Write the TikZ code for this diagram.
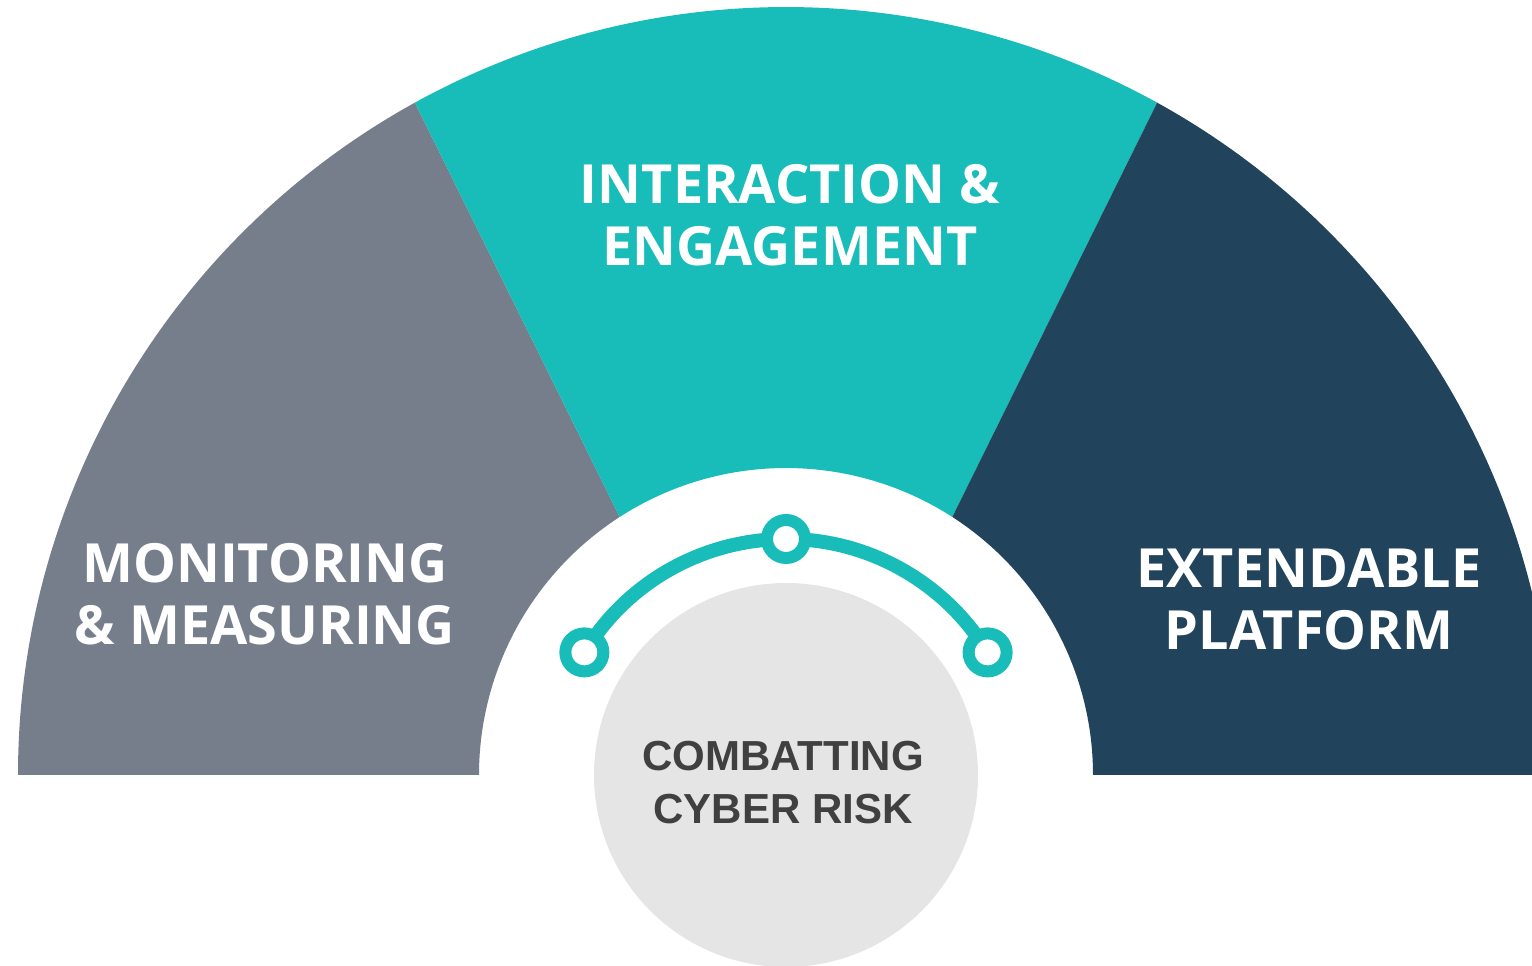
\documentclass[tikz,border=0pt]{standalone}
\usepackage{fontspec}
\newfontfamily\opensans{Open Sans}
\newfontfamily\libsans{Liberation Sans}
\definecolor{slategrey}{HTML}{767E8C}
\definecolor{tealc}{HTML}{18BCB9}
\definecolor{navyc}{HTML}{21435B}
\definecolor{lightgreyc}{HTML}{E4E5E4}
\definecolor{darktext}{HTML}{404040}
\tikzset{
  sectorlabel/.style={text=white, align=center, inner sep=0pt,
    font=\opensans\bfseries\fontsize{54}{62}\selectfont},
  centerlabel/.style={text=darktext, align=center, inner sep=0pt,
    font=\libsans\bfseries\fontsize{42}{53}\selectfont},
  ringdot/.style={circle, draw=tealc, line width=12pt, fill=white,
    minimum size=38pt, inner sep=0pt},
}
\begin{document}
\begin{tikzpicture}[x=1pt,y=1pt]
\useasboundingbox (0,0) rectangle (1532,966);
\clip (0,0) rectangle (1532,966);
\begin{scope}[shift={(786,191)}]
  \fill[slategrey] (180:768) arc[start angle=180, end angle=118.9, radius=768]
     -- (122.8:307) arc[start angle=122.8, end angle=180, radius=307] -- cycle;
  \fill[tealc] (118.9:768) arc[start angle=118.9, end angle=61.1, radius=768]
     -- (57.2:307) arc[start angle=57.2, end angle=122.8, radius=307] -- cycle;
  \fill[navyc] (61.1:768) arc[start angle=61.1, end angle=0, radius=768]
     -- (0:307) arc[start angle=0, end angle=57.2, radius=307] -- cycle;
  \fill[lightgreyc] (0,0) circle[radius=192];
  \draw[tealc, line width=14pt] (148.7:236) arc[start angle=148.7, end angle=31.3, radius=236];
  \node[ringdot] (dotL) at (148.7:236) {};
  \node[ringdot] (dotM) at (90:236) {};
  \node[ringdot] (dotR) at (31.3:236) {};
\end{scope}
\node[sectorlabel] (interaction) at (790,751) {INTERACTION \&\\ENGAGEMENT};
\node[sectorlabel] (monitoring) at (265,372) {MONITORING\\\& MEASURING};
\node[sectorlabel] (extendable) at (1309,367) {EXTENDABLE\\PLATFORM};
\node[centerlabel] (combatting) at (783,183) {COMBATTING\\CYBER RISK};
\end{tikzpicture}
\end{document}
